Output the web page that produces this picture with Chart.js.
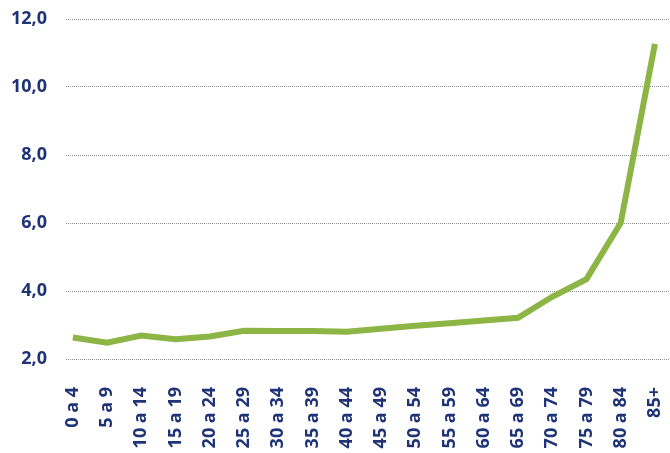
<!DOCTYPE html>
<html>
<head>
<meta charset="utf-8">
<script src="https://cdn.jsdelivr.net/npm/chart.js@4/dist/chart.umd.min.js"></script>
<style>
  html, body { margin: 0; padding: 0; background: #fff; }
  #wrap { width: 670px; height: 453px; }
</style>
</head>
<body>
<div id="wrap"><canvas id="chart"></canvas></div>
<script>
// age groups and rate per group
const ageLabels = ['0 a 4', '5 a 9', '10 a 14', '15 a 19', '20 a 24', '25 a 29', '30 a 34', '35 a 39',
  '40 a 44', '45 a 49', '50 a 54', '55 a 59', '60 a 64', '65 a 69', '70 a 74', '75 a 79', '80 a 84', '85+'];
const rates = [2.63, 2.48, 2.69, 2.58, 2.66, 2.83, 2.82, 2.82, 2.80, 2.89, 2.98, 3.05, 3.13, 3.21, 3.83, 4.35, 6.0, 11.27];

const navy = '#1f3476';
const tickFont = { family: '"Open Sans"', size: 18, weight: 'bold' };

const points = rates.map((v, i) => ({ x: i, y: v }));

new Chart(document.getElementById('chart'), {
  type: 'line',
  data: {
    datasets: [{
      data: points,
      borderColor: '#8cb545',
      borderWidth: 6,
      borderCapStyle: 'butt',
      tension: 0,
      pointRadius: 0,
      fill: false
    }]
  },
  options: {
    responsive: true,
    maintainAspectRatio: false,
    animation: false,
    layout: { padding: { top: 19, right: 0, bottom: 0, left: 0 } },
    plugins: {
      legend: { display: false },
      tooltip: { enabled: false }
    },
    scales: {
      x: {
        type: 'linear',
        min: -0.2,
        max: 17.44,
        grid: { display: false, drawTicks: false },
        border: { display: false },
        afterBuildTicks: (scale) => {
          scale.ticks = ageLabels.map((_, i) => ({ value: i }));
        },
        afterFit: (scale) => {
          scale.height = 94;
          scale.paddingLeft = 0;
          scale.paddingRight = 0;
        },
        ticks: {
          autoSkip: false,
          minRotation: 90,
          maxRotation: 90,
          padding: 28,
          color: navy,
          font: tickFont,
          callback: (value) => ageLabels[value]
        }
      },
      y: {
        min: 2,
        max: 12,
        grid: { color: '#8f8f8f', lineWidth: 1, drawTicks: false },
        border: { display: false, dash: [1, 1] },
        afterFit: (scale) => {
          scale.width = 66;
          scale.paddingTop = 0;
          scale.paddingBottom = 0;
        },
        ticks: {
          stepSize: 2,
          padding: 19,
          color: navy,
          font: tickFont,
          callback: (value) => value.toFixed(1).replace('.', ',')
        }
      }
    }
  }
});
</script>
</body>
</html>
